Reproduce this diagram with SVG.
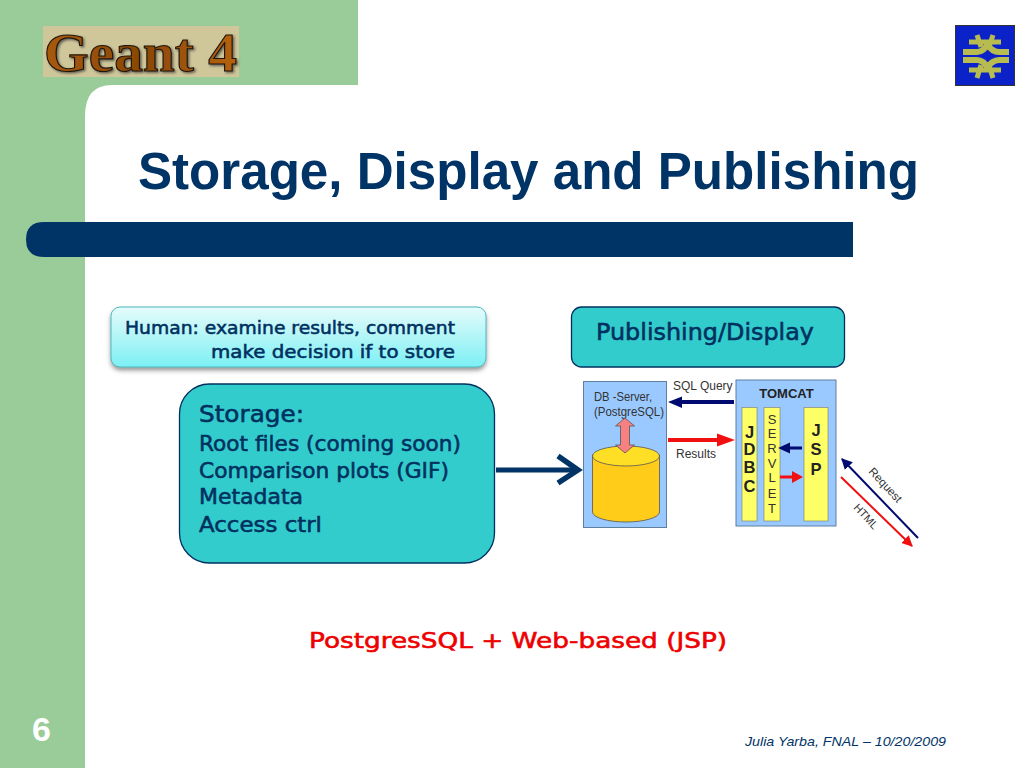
<svg xmlns="http://www.w3.org/2000/svg" width="1024" height="768" viewBox="0 0 1024 768">
<defs>
<style>
.c{font-family:"DejaVu Sans","Open Sans",sans-serif;font-weight:400;fill:#003060;stroke:#003060;stroke-width:0.55}
.l{font-family:"Liberation Sans",Arial,sans-serif;fill:#333}
.b{font-family:"Liberation Sans",Arial,sans-serif;font-weight:bold;fill:#222}
.s{font-family:"Liberation Sans",Arial,sans-serif;fill:#333;text-anchor:middle}
.navy{fill:#000a70}
.red{fill:#f01010}
</style>
<linearGradient id="hg" x1="0" y1="0" x2="0" y2="1"><stop offset="0" stop-color="#e6fbfb"/><stop offset="1" stop-color="#7cf0f4"/></linearGradient>
<linearGradient id="wood" x1="0" y1="0" x2="1" y2="0"><stop offset="0" stop-color="#a85a08"/><stop offset="0.5" stop-color="#8a4706"/><stop offset="1" stop-color="#b5620a"/></linearGradient>
<filter id="sh" x="-5%" y="-10%" width="110%" height="130%"><feDropShadow dx="0" dy="3" stdDeviation="2" flood-color="#555" flood-opacity="0.6"/></filter>
<filter id="ts" x="-5%" y="-10%" width="110%" height="125%"><feDropShadow dx="1.500" dy="1.500" stdDeviation="0.800" flood-color="#333" flood-opacity="0.7"/></filter>
<marker id="navyHead" viewBox="0 0 10 10" refX="9" refY="5" markerWidth="5.500" markerHeight="5.500" orient="auto"><path d="M0 0L10 5L0 10z" fill="#000a70"/></marker>
<marker id="redHead" viewBox="0 0 10 10" refX="9" refY="5" markerWidth="5.500" markerHeight="5.500" orient="auto"><path d="M0 0L10 5L0 10z" fill="#f01010"/></marker>
</defs>

<rect width="1024" height="768" fill="#fff"/>
<g id="background">
<path d="M0 0H358V85H112Q85 85 85 116V768H0z" fill="#99cc99"/>
</g>

<g id="logo-geant4">
<rect x="43" y="26" width="196" height="51" fill="#cfc79a"/>
<text x="44" y="71" font-family="'Liberation Serif',serif" font-weight="bold" font-size="55" textLength="193" lengthAdjust="spacingAndGlyphs" fill="url(#wood)" stroke="#1c1208" stroke-width="1.100" filter="url(#ts)">Geant 4</text>
</g>

<g id="logo-fnal">
<rect x="955.500" y="25.500" width="59" height="60" fill="#0a22c8" stroke="#333" stroke-width="1"/>
<g fill="none" stroke="#b8bc50" stroke-width="6">
<path d="M963 52H977Q984 52 988 43M1009 52H999Q992 52 986 43"/>
<path d="M963 60H977Q984 60 988 69M1009 60H999Q992 60 986 69"/>
<path d="M969 42H1001M977 35L981 47M993 35L989 47M969 70H1001M977 78L981 65M993 78L989 65" stroke-width="5"/>
</g>
</g>

<g id="title">
<text x="138" y="189" font-family="'Liberation Sans',Arial,sans-serif" font-weight="bold" font-size="51" fill="#003366" textLength="781" lengthAdjust="spacingAndGlyphs">Storage, Display and Publishing</text>
<path d="M44 222H853V257H44Q26 257 26 239.500Q26 222 44 222z" fill="#003366"/>
</g>

<g id="human">
<rect x="111" y="307" width="375" height="60" rx="9" fill="url(#hg)" stroke="#4fb9bd" stroke-width="1" filter="url(#sh)"/>
<text class="c" x="125" y="334" font-size="18" textLength="330" lengthAdjust="spacingAndGlyphs">Human: examine results, comment</text>
<text class="c" x="211" y="358" font-size="18" textLength="244" lengthAdjust="spacingAndGlyphs">make decision if to store</text>
</g>

<g id="storage">
<rect x="179.500" y="384" width="315" height="179" rx="30" fill="#33cccc" stroke="#003060" stroke-width="1.300"/>
<text class="c" x="199" y="422" font-size="23" textLength="105" lengthAdjust="spacingAndGlyphs">Storage:</text>
<text class="c" x="199" y="451" font-size="21" textLength="262" lengthAdjust="spacingAndGlyphs">Root files (coming soon)</text>
<text class="c" x="199" y="478" font-size="21" textLength="250" lengthAdjust="spacingAndGlyphs">Comparison plots (GIF)</text>
<text class="c" x="199" y="504" font-size="21" textLength="104" lengthAdjust="spacingAndGlyphs">Metadata</text>
<text class="c" x="199" y="532" font-size="21" textLength="123" lengthAdjust="spacingAndGlyphs">Access ctrl</text>
</g>

<g id="publishing">
<rect x="571.500" y="307" width="273" height="60" rx="10" fill="#33cccc" stroke="#003060" stroke-width="1.300"/>
<text class="c" x="596" y="340" font-size="23" textLength="218" lengthAdjust="spacingAndGlyphs">Publishing/Display</text>
</g>

<g id="db-server">
<rect x="583.500" y="381.500" width="83" height="146" fill="#99c9ff" stroke="#5f7f9f" stroke-width="1"/>
<text class="l" x="594" y="401" font-size="12" textLength="58" lengthAdjust="spacingAndGlyphs">DB -Server,</text>
<text class="l" x="594" y="415.500" font-size="12" textLength="70" lengthAdjust="spacingAndGlyphs">(PostgreSQL)</text>
<path d="M592.500 455V512A33.500 10 0 0 0 659.500 512V455z" fill="#ffcc1a" stroke="#555" stroke-width="0.800"/>
<ellipse cx="626" cy="456" rx="33.500" ry="10" fill="#ffde26" stroke="#555" stroke-width="0.800"/>
<path d="M625 418L634.500 426H629.500V445L634.500 445L625 453L615.500 445H620.500V426H615.500z" fill="#f78080" stroke="#555" stroke-width="0.800"/>
</g>

<g id="tomcat">
<rect x="736" y="380" width="100" height="146" fill="#99c9ff" stroke="#5f7f9f" stroke-width="1"/>
<text x="786.500" y="398" font-family="'Liberation Sans',Arial,sans-serif" font-size="13" font-weight="bold" fill="#222" text-anchor="middle">TOMCAT</text>
<rect x="742" y="407.500" width="15" height="113.500" fill="#ffff66" stroke="#777" stroke-width="0.600"/>
<rect x="764" y="407.500" width="16" height="113.500" fill="#ffff66" stroke="#777" stroke-width="0.600"/>
<rect x="804" y="407.500" width="24" height="113.500" fill="#ffff66" stroke="#777" stroke-width="0.600"/>
<g class="b" font-size="16.500" text-anchor="middle">
<text x="749.500" y="438">J</text><text x="749.500" y="455">D</text><text x="749.500" y="473">B</text><text x="749.500" y="492">C</text>
<text x="816" y="436">J</text><text x="816" y="455">S</text><text x="816" y="475">P</text>
</g>
<g class="s" font-size="13">
<text x="772" y="424">S</text><text x="772" y="438">E</text><text x="772" y="453">R</text><text x="772" y="468">V</text><text x="772" y="482">L</text><text x="772" y="498">E</text><text x="772" y="513">T</text>
</g>
</g>

<g id="connectors">
<line x1="496" y1="470" x2="575" y2="470" stroke="#003366" stroke-width="5"/>
<path d="M558 456L578 470L558 483" fill="none" stroke="#003366" stroke-width="5.500"/>
<path d="M734 400H682V396.500L668 402L682 408V404H734z" class="navy"/>
<path d="M668 438H717V433.500L735 440L717 446.500V442H668z" class="red"/>
<path d="M802 446.500H790V442.500L778 448L790 453.500V449.500H802z" class="navy"/>
<path d="M780 475.500H792V471L803 477L792 483V478.500H780z" class="red"/>
<line x1="918" y1="538" x2="842" y2="459" stroke="#000a70" stroke-width="2" marker-end="url(#navyHead)"/>
<line x1="841" y1="477" x2="912" y2="546" stroke="#f01010" stroke-width="2" marker-end="url(#redHead)"/>
<text class="l" x="673" y="390" font-size="12">SQL Query</text>
<text class="l" x="676" y="458" font-size="12">Results</text>
<text class="l" transform="translate(868 472) rotate(47)" font-size="11.500">Request</text>
<text class="l" transform="translate(853 508) rotate(47)" font-size="11">HTML</text>
</g>

<g id="caption">
<text x="309" y="648" font-family="'DejaVu Sans',sans-serif" font-size="22" font-weight="400" fill="#ee0000" stroke="#ee0000" stroke-width="0.600" textLength="418" lengthAdjust="spacingAndGlyphs">PostgresSQL + Web-based (JSP)</text>
</g>

<g id="footer">
<text x="32" y="741" font-family="'Liberation Sans',Arial,sans-serif" font-weight="bold" font-size="34" fill="#fff">6</text>
<text x="745" y="746" font-family="'Liberation Sans',Arial,sans-serif" font-style="italic" font-size="13" fill="#003366" textLength="201" lengthAdjust="spacingAndGlyphs">Julia Yarba, FNAL – 10/20/2009</text>
</g>
</svg>
